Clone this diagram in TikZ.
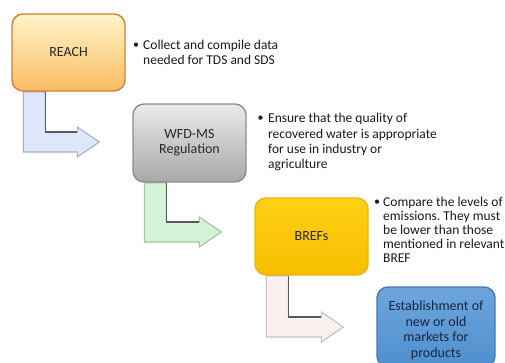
\documentclass[tikz,border=0pt]{standalone}
\usepackage{fontspec}
\setmainfont{Carlito}
\usetikzlibrary{calc}
\pgfdeclarelayer{background}
\pgfsetlayers{background,main}
\frenchspacing
\definecolor{reachtop}{RGB}{255,244,200}
\definecolor{reachbot}{RGB}{250,188,100}
\definecolor{reachline}{RGB}{214,128,52}
\definecolor{wfdtop}{RGB}{234,234,234}
\definecolor{wfdbot}{RGB}{168,168,168}
\definecolor{wfdline}{RGB}{140,140,140}
\definecolor{breftop}{RGB}{255,208,20}
\definecolor{brefbot}{RGB}{246,190,0}
\definecolor{brefline}{RGB}{232,182,20}
\definecolor{bluetop}{RGB}{108,166,220}
\definecolor{bluebot}{RGB}{80,142,206}
\definecolor{blueline}{RGB}{70,120,178}
\definecolor{bluetext}{RGB}{22,38,66}
\definecolor{labeltext}{RGB}{40,40,40}
\definecolor{bodytext}{RGB}{25,25,25}
\definecolor{arrAfill}{RGB}{222,231,248}
\definecolor{arrAline}{RGB}{160,176,204}
\definecolor{arrBfill}{RGB}{214,242,214}
\definecolor{arrBline}{RGB}{160,196,160}
\definecolor{arrCfill}{RGB}{252,240,238}
\definecolor{arrCline}{RGB}{200,190,190}
\definecolor{arrshade}{RGB}{90,90,90}
\newcommand\bentarrow[5]{%
  \draw[fill=#3, draw=#4, line width=1.1pt, line join=miter]
    let \p1=(#1.south west), \p2=($(#2.west)+(0,#5)$) in
    (\x1+12pt,\y1) -- (\x1+34pt,\y1) -- (\x1+34pt,\y2+10pt)
    -- (\x2-55pt,\y2+10pt) -- (\x2-55pt,\y2+15pt) -- (\x2-33pt,\y2)
    -- (\x2-55pt,\y2-15pt) -- (\x2-55pt,\y2-10pt) -- (\x1+12pt,\y2-10pt) -- cycle;
  \draw[draw=arrshade, line width=1.2pt]
    let \p1=(#1.south west), \p2=($(#2.west)+(0,#5)$) in
    (\x1+34pt,\y1) -- (\x1+34pt,\y2+10pt) -- (\x2-55pt,\y2+10pt);
}
\begin{document}
\begin{tikzpicture}[x=1pt,y=-1pt,
  box/.style={rounded corners=11pt, line width=1.4pt, minimum width=113pt,
    minimum height=77pt, inner sep=0pt, align=center,
    font=\fontsize{14}{15}\selectfont, text=labeltext},
  bodytxt/.style={anchor=north west, inner sep=0pt, align=left, text=bodytext},
  bulletmark/.style={inner sep=0pt, text=bodytext, font=\fontsize{12}{14}\selectfont}]
\useasboundingbox (0,0) rectangle (505,362);
\clip (0,0) rectangle (505,362);

% boxes
\node[box, top color=reachtop, bottom color=reachbot, draw=reachline] (reach) at (68.5,52.5) {REACH};
\node[box, top color=wfdtop, bottom color=wfdbot, draw=wfdline, minimum height=78pt] (wfd) at (189.5,143) {WFD-MS\\Regulation};
\node[box, top color=breftop, bottom color=brefbot, draw=brefline] (bref) at (311.5,236.5) {BREFs};
\node[box, top color=bluetop, bottom color=bluebot, draw=blueline, minimum width=118pt,
  minimum height=80pt, text=bluetext, font=\fontsize{14}{15.7}\selectfont] (market) at (436,327)
  {\rule{0pt}{16pt}Establishment of\\new or old\\markets for\\products};

% bent block arrows (behind boxes)
\begin{pgfonlayer}{background}
\fill[white] (0,0) rectangle (505,362);
\bentarrow{reach}{wfd}{arrAfill}{arrAline}{-1}
\bentarrow{wfd}{bref}{arrBfill}{arrBline}{-4.5}
\bentarrow{bref}{market}{arrCfill}{arrCline}{0}
\end{pgfonlayer}

% bullet texts
\node[bulletmark] (b1) at (136,45.5) {\textbullet};
\node[bodytxt, font=\fontsize{13.5}{15}\selectfont] (t1) at (143,39.6)
  {Collect and compile data\\needed for TDS and SDS};
\node[bulletmark] (b2) at (260.5,118.5) {\textbullet};
\node[bodytxt, font=\fontsize{13.5}{15.3}\selectfont] (t2) at (268,113.4)
  {Ensure that the quality of\\recovered water is appropriate\\for use in industry or\\agriculture};
\node[bulletmark] (b3) at (377,202.5) {\textbullet};
\node[bodytxt, font=\fontsize{13.5}{13.8}\selectfont] (t3) at (383,197.4)
  {Compare the levels of\\emissions. They must\\be lower than those\\mentioned in relevant\\BREF};
\end{tikzpicture}
\end{document}
